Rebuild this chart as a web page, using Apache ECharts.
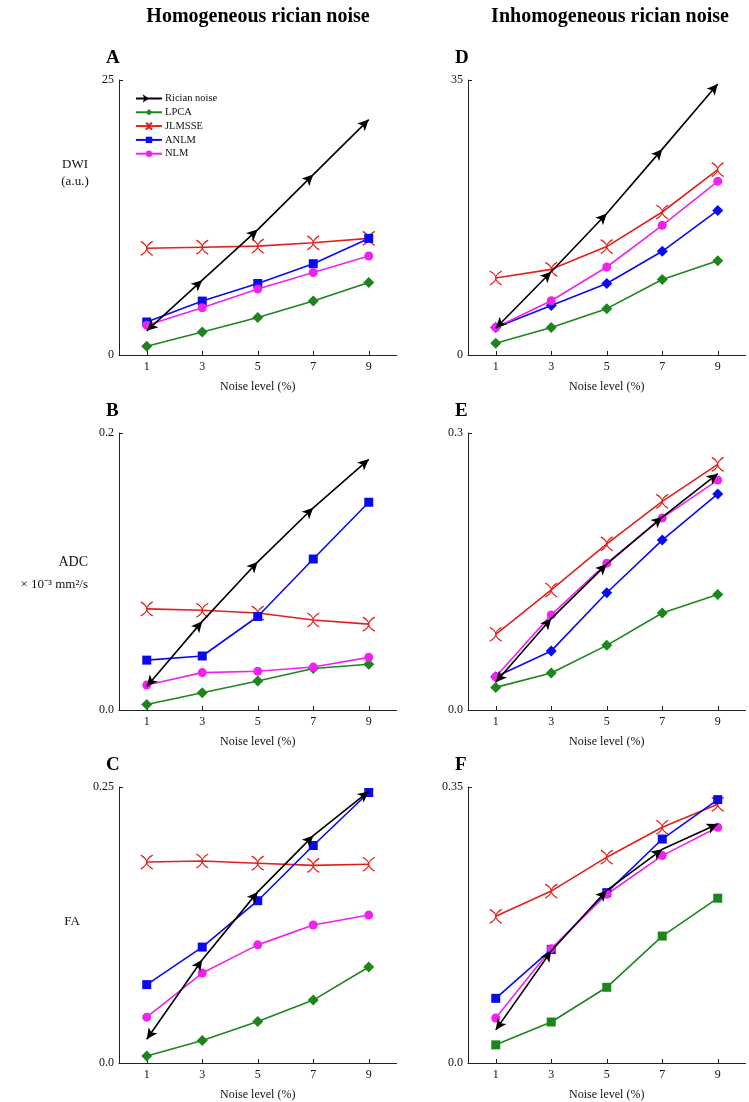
<!DOCTYPE html>
<html><head><meta charset="utf-8">
<script src="https://cdn.jsdelivr.net/npm/echarts@6/dist/echarts.min.js"></script>
<style>html,body{margin:0;padding:0;background:#fff}#c{width:749px;height:1102px}</style>
</head><body><div id="c"></div>
<script>
// ---------- data ----------
const noiseLevels = [1, 3, 5, 7, 9];
const methodNames = ['Rician noise', 'LPCA', 'JLMSSE', 'ANLM', 'NLM'];
const xTickLabels = [1, 3, 5, 7, 9];

// A: DWI, homogeneous
const dwiHomRician = [2.2, 6.8, 11.4, 16.4, 21.4];
const dwiHomLPCA   = [0.8, 2.1, 3.4, 4.9, 6.6];
const dwiHomJLMSSE = [9.7, 9.8, 9.9, 10.2, 10.6];
const dwiHomANLM   = [3.0, 4.9, 6.5, 8.3, 10.6];
const dwiHomNLM    = [2.7, 4.3, 6.0, 7.5, 9.0];
// D: DWI, inhomogeneous
const dwiInhRician = [3.4, 10.6, 18.0, 26.2, 34.5];
const dwiInhLPCA   = [1.5, 3.5, 5.9, 9.6, 12.0];
const dwiInhJLMSSE = [9.8, 10.9, 13.8, 18.2, 23.6];
const dwiInhANLM   = [3.5, 6.3, 9.1, 13.2, 18.4];
const dwiInhNLM    = [3.5, 6.9, 11.2, 16.5, 22.1];
// B: ADC, homogeneous
const adcHomRician = [0.017, 0.064, 0.107, 0.146, 0.181];
const adcHomLPCA   = [0.004, 0.0125, 0.021, 0.030, 0.033];
const adcHomJLMSSE = [0.073, 0.072, 0.070, 0.065, 0.062];
const adcHomANLM   = [0.036, 0.039, 0.0675, 0.109, 0.150];
const adcHomNLM    = [0.018, 0.027, 0.028, 0.031, 0.038];
// E: ADC, inhomogeneous
const adcInhRician = [0.030, 0.099, 0.158, 0.209, 0.256];
const adcInhLPCA   = [0.0245, 0.040, 0.070, 0.105, 0.125];
const adcInhJLMSSE = [0.082, 0.130, 0.180, 0.226, 0.266];
const adcInhANLM   = [0.036, 0.064, 0.127, 0.184, 0.234];
const adcInhNLM    = [0.036, 0.103, 0.159, 0.208, 0.249];
// C: FA, homogeneous
const faHomRician = [0.0215, 0.0935, 0.155, 0.206, 0.246];
const faHomLPCA   = [0.0064, 0.0203, 0.0375, 0.057, 0.087];
const faHomJLMSSE = [0.182, 0.183, 0.181, 0.179, 0.180];
const faHomANLM   = [0.071, 0.105, 0.147, 0.197, 0.245];
const faHomNLM    = [0.0415, 0.0815, 0.107, 0.125, 0.134];
// F: FA, inhomogeneous
const faInhRician = [0.042, 0.142, 0.219, 0.271, 0.303];
const faInhLPCA   = [0.023, 0.052, 0.096, 0.161, 0.209];
const faInhJLMSSE = [0.186, 0.218, 0.261, 0.299, 0.328];
const faInhANLM   = [0.082, 0.144, 0.216, 0.284, 0.334];
const faInhNLM    = [0.057, 0.145, 0.214, 0.263, 0.299];

const yMaxA = 25, yMaxD = 35, yMaxB = 0.2, yMaxE = 0.3, yMaxC = 0.25, yMaxF = 0.35;

// ---------- layout / style ----------
const FONT = "'Liberation Serif','Times New Roman',serif";
const colors = {'Rician noise':'#000000', 'LPCA':'#1c861c', 'JLMSSE':'#e0201c', 'ANLM':'#0a0af2', 'NLM':'#f022f0'};
const xPath = 'path://M0,0Q10,6 0,12M10,0Q0,6 10,12';

const panels = [
  {letter:'A', max:yMaxA, dec:0, sets:[dwiHomRician,dwiHomLPCA,dwiHomJLMSSE,dwiHomANLM,dwiHomNLM], left:119, top:80, h:275, anlm:'rect', lpca:'diamond'},
  {letter:'D', max:yMaxD, dec:0, sets:[dwiInhRician,dwiInhLPCA,dwiInhJLMSSE,dwiInhANLM,dwiInhNLM], left:468, top:80, h:275, anlm:'diamond', lpca:'diamond'},
  {letter:'B', max:yMaxB, dec:1, sets:[adcHomRician,adcHomLPCA,adcHomJLMSSE,adcHomANLM,adcHomNLM], left:119, top:433, h:277, anlm:'rect', lpca:'diamond'},
  {letter:'E', max:yMaxE, dec:1, sets:[adcInhRician,adcInhLPCA,adcInhJLMSSE,adcInhANLM,adcInhNLM], left:468, top:433, h:277, anlm:'diamond', lpca:'diamond'},
  {letter:'C', max:yMaxC, dec:1, sets:[faHomRician,faHomLPCA,faHomJLMSSE,faHomANLM,faHomNLM], left:119, top:787, h:276, anlm:'rect', lpca:'diamond'},
  {letter:'F', max:yMaxF, dec:1, sets:[faInhRician,faInhLPCA,faInhJLMSSE,faInhANLM,faInhNLM], left:468, top:787, h:276, anlm:'rect', lpca:'rect'}
];
const GW = 277.5;

const grids = [], xAxes = [], yAxes = [], series = [], graphics = [];
panels.forEach((p, i) => {
  grids.push({left:p.left, top:p.top, width:GW, height:p.h, containLabel:false});
  xAxes.push({
    gridIndex:i, type:'value', min:0, max:10,
    name:'Noise level (%)', nameLocation:'middle', nameGap:26,
    nameTextStyle:{fontFamily:FONT, fontSize:12, color:'#111'},
    axisLine:{show:true, lineStyle:{color:'#222', width:1}},
    axisTick:{show:true, inside:true, length:4, customValues:xTickLabels, lineStyle:{color:'#222'}},
    axisLabel:{fontFamily:FONT, fontSize:12, color:'#111', margin:6, customValues:xTickLabels},
    splitLine:{show:false}
  });
  yAxes.push({
    gridIndex:i, type:'value', min:0, max:p.max, interval:p.max,
    axisLine:{show:true, lineStyle:{color:'#222', width:1}},
    axisTick:{show:true, inside:true, length:4, lineStyle:{color:'#222'}},
    axisLabel:{fontFamily:FONT, fontSize:12, color:'#111', margin:5,
      formatter: v => (v === 0 ? (p.dec ? '0.0' : '0') : String(v))},
    splitLine:{show:false}
  });
  methodNames.forEach((name, m) => {
    const c = colors[name];
    const s = {
      name, type:'line', xAxisIndex:i, yAxisIndex:i,
      data: noiseLevels.map((x, k) => [x, p.sets[m][k]]),
      lineStyle:{color:c, width:1.6},
      itemStyle:{color:c},
      showAllSymbol:true, animation:false, z: 2 + (m === 0 ? 1 : 0)
    };
    if (name === 'Rician noise') { s.symbol = 'arrow'; s.symbolSize = [8, 11]; s.symbolRotate = -90; }
    else if (name === 'LPCA') { s.symbol = p.lpca; s.symbolSize = p.lpca === 'rect' ? 9 : 11; }
    else if (name === 'JLMSSE') { s.symbol = xPath; s.symbolSize = [12, 14]; s.itemStyle = {color:'rgba(0,0,0,0)', borderColor:c, borderWidth:1.2}; }
    else if (name === 'ANLM') { s.symbol = p.anlm; s.symbolSize = p.anlm === 'rect' ? 9 : 11; }
    else { s.symbol = 'circle'; s.symbolSize = 9; }
    series.push(s);
  });
  graphics.push({type:'text', left:p.left - 13, top:p.top - 31,
    style:{text:p.letter, font:`bold 19px ${FONT}`, fill:'#000'}});
});

graphics.push(
  {type:'text', x:258, y:17, style:{text:'Homogeneous rician noise', font:`bold 20px ${FONT}`, fill:'#000', align:'center', verticalAlign:'middle'}},
  {type:'text', x:610, y:17, style:{text:'Inhomogeneous rician noise', font:`bold 20px ${FONT}`, fill:'#000', align:'center', verticalAlign:'middle'}},
  {type:'text', x:75, y:165, style:{text:'DWI', font:`13px ${FONT}`, fill:'#111', align:'center', verticalAlign:'middle'}},
  {type:'text', x:75, y:182, style:{text:'(a.u.)', font:`13px ${FONT}`, fill:'#111', align:'center', verticalAlign:'middle'}},
  {type:'text', x:88, y:562, style:{text:'ADC', font:`14px ${FONT}`, fill:'#111', align:'right', verticalAlign:'middle'}},
  {type:'text', x:88, y:585, style:{text:'× 10⁻³ mm²/s', font:`13px ${FONT}`, fill:'#111', align:'right', verticalAlign:'middle'}},
  {type:'text', x:72, y:922, style:{text:'FA', font:`13px ${FONT}`, fill:'#111', align:'center', verticalAlign:'middle'}}
);

const chart = echarts.init(document.getElementById('c'), null, {renderer:'canvas'});
const option = {
  backgroundColor:'#fff',
  animation:false,
  grid:grids, xAxis:xAxes, yAxis:yAxes, series,
  legend:{data:methodNames, orient:'vertical', left:135, top:93, itemWidth:26, itemHeight:8, itemGap:2.8, padding:0,
    textStyle:{fontFamily:FONT, fontSize:10.5, color:'#111', lineHeight:8, padding:[0,0,0,-2]}, selectedMode:false},
  graphic:graphics
};
chart.setOption(option);

// orient Rician arrowheads along the incoming segment (using the chart's own scales)
const upd = series.map(() => ({}));
series.forEach((s, si) => {
  if (s.name !== 'Rician noise') return;
  const px = s.data.map(d => chart.convertToPixel({seriesIndex:si}, d));
  upd[si] = {data: s.data.map((d, k) => {
    let a, b;
    if (k === 0) { a = px[1]; b = px[0]; } else { a = px[k - 1]; b = px[k]; }
    const dx = b[0] - a[0], dy = b[1] - a[1];
    const rot = Math.atan2(-dx, -dy) * 180 / Math.PI;
    return {value:d, symbolRotate:rot};
  })};
});
chart.setOption({series:upd});
</script></body></html>
